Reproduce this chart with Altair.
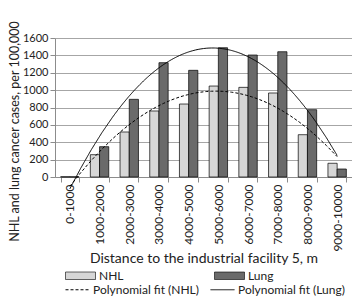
import altair as alt
import pandas as pd

categories = ["0-1000", "1000-2000", "2000-3000", "3000-4000", "4000-5000",
              "5000-6000", "6000-7000", "7000-8000", "8000-9000", "9000-10000"]
nhl = [3, 257, 518, 760, 840, 1047, 1032, 967, 487, 158]
lung = [2, 349, 894, 1316, 1228, 1488, 1404, 1442, 775, 92]
series_names = ["NHL", "Lung"]
fit_names = ["Polynomial fit (NHL)", "Polynomial fit (Lung)"]
y_ticks = [0, 200, 400, 600, 800, 1000, 1200, 1400, 1600]

rows = []
for i, c in enumerate(categories):
    rows.append({"cat": c, "idx": i + 1, "series": "NHL", "value": nhl[i]})
    rows.append({"cat": c, "idx": i + 1, "series": "Lung", "value": lung[i]})
df = pd.DataFrame(rows)

FONT = "Lato"
GRAY = "#8c8c8c"

base = alt.Chart(df)

bars = base.mark_bar(stroke="black", strokeWidth=0.7).encode(
    x=alt.X("cat:N", sort=categories,
            scale=alt.Scale(paddingInner=0.38, paddingOuter=0.19),
            axis=alt.Axis(title="Distance to the industrial facility 5, m",
                          labelAngle=-90, tickBand="extent", grid=False,
                          labelFontSize=12, titleFontSize=14, labelPadding=2,
                          tickSize=5, titlePadding=0)),
    xOffset=alt.XOffset("series:N", sort=series_names,
                        scale=alt.Scale(paddingInner=0, paddingOuter=0)),
    y=alt.Y("value:Q", scale=alt.Scale(domain=[0, 1600], nice=False),
            axis=alt.Axis(title="NHL and lung cancer cases, per 100,000",
                          values=y_ticks, format="d", labelOverlap=False,
                          labelFontSize=11, titleFontSize=12.5,
                          tickSize=5, labelPadding=2, titleY=93, titleX=-33.5)),
    color=alt.Color("series:N", sort=series_names,
                    scale=alt.Scale(domain=series_names, range=["#d6d6d6", "#6a6a6a"]),
                    legend=alt.Legend(title=None, orient="none", legendX=10, legendY=222,
                                      direction="horizontal", columns=2, columnPadding=89,
                                      symbolType="M-1,-0.25H1V0.25H-1Z", symbolSize=900,
                                      symbolStrokeColor="black", symbolStrokeWidth=0.6,
                                      labelFontSize=12, labelOffset=3)),
)

fits = base.transform_regression(
    "idx", "value", method="poly", order=2, groupby=["series"]
).transform_calculate(
    fit="'Polynomial fit (' + datum.series + ')'"
).mark_line(color="black", strokeWidth=1).encode(
    x=alt.X("idx:Q", scale=alt.Scale(domain=[0.5, 10.5], nice=False, zero=False), axis=None),
    y=alt.Y("value:Q", axis=None),
    strokeDash=alt.StrokeDash("fit:N", sort=fit_names,
                              scale=alt.Scale(domain=fit_names, range=[[3, 2], [1, 0]]),
                              legend=alt.Legend(title=None, orient="none", legendX=10, legendY=239,
                                                direction="horizontal", columns=2, columnPadding=9,
                                                symbolType="stroke", symbolSize=576,
                                                symbolStrokeColor="black", symbolStrokeWidth=1,
                                                labelFontSize=12, labelOffset=3)),
)

chart = alt.layer(bars, fits).resolve_scale(x="independent", y="shared").resolve_axis(
    y="independent"
).properties(
    width=297, height=139,
    autosize=alt.AutoSizeParams(type="none"),
    padding={"left": 47, "top": 30, "right": 0, "bottom": 119},
).configure(font=FONT).configure_axis(
    gridColor="#a6a6a6", domainColor=GRAY, tickColor=GRAY,
    labelColor="#222222", titleColor="#222222", labelFont=FONT, titleFont=FONT,
    titleFontWeight="normal",
).configure_legend(labelFont=FONT, labelColor="#222222").configure_view(stroke=None)

chart.save("out.html", embed_options={"renderer": "svg", "actions": False})
